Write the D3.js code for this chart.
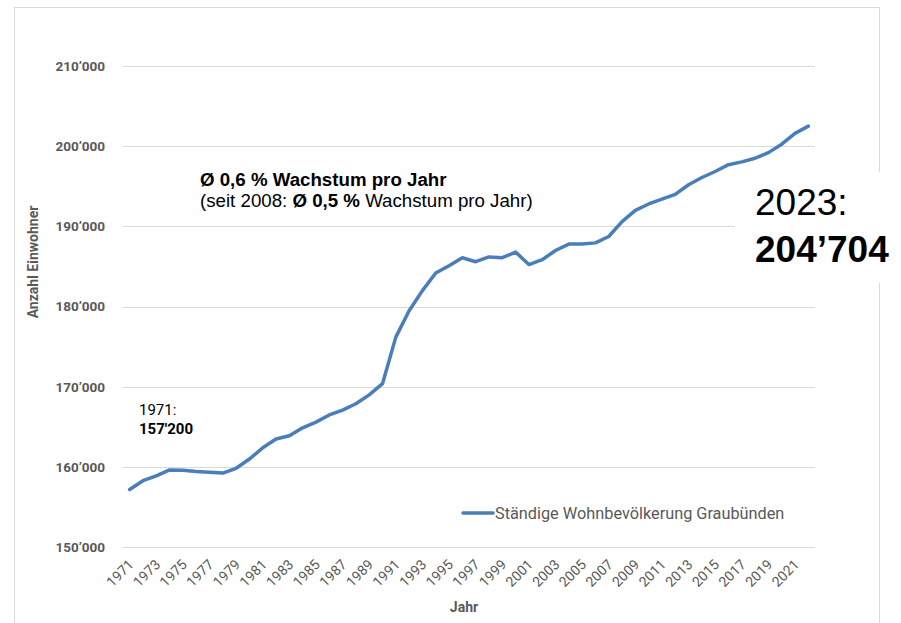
<!DOCTYPE html>
<html>
<head>
<meta charset="utf-8">
<script src="https://cdn.jsdelivr.net/npm/d3@7"></script>
<style>
  body { margin: 0; background: #fff; }
  svg { display: block; }
  .tick text { font-family: Roboto, sans-serif; fill: #595959; }
</style>
</head>
<body>
<div id="chart"></div>
<script>
// Ständige Wohnbevölkerung Graubünden, 1971-2022
let years = d3.range(1971, 2023);
let population = [
    157200, 158300, 158900, 159650, 159600, 159450, 159350, 159250, 159850, 161000,
    162400, 163500, 163900, 164900, 165600, 166500, 167100, 167900, 169000, 170400,
    176200, 179500, 182000, 184200, 185100, 186100, 185600, 186200, 186100, 186800,
    185250, 185850, 187000, 187800, 187800, 187950, 188750, 190600, 192000, 192800,
    193400, 194000, 195200, 196100, 196850, 197700, 198050, 198500, 199200, 200250,
    201600, 202500
];
let yTicks = [150000, 160000, 170000, 180000, 190000, 200000, 210000];
let xTicks = years.filter(y => (y - 1971) % 2 === 0);

let width = 901, height = 623;
let lineColor = "#4a7ebb";

let svg = d3.select("#chart").append("svg")
    .attr("width", width)
    .attr("height", height);

// outer chart frame
svg.append("rect")
    .attr("x", 14.5).attr("y", 7.5)
    .attr("width", 865).attr("height", 640)
    .attr("fill", "#fff")
    .attr("stroke", "#d9d9d9");

let x = d3.scalePoint()
    .domain(years)
    .range([123, 815])
    .padding(0.5);

let y = d3.scaleLinear()
    .domain([150000, 210000])
    .range([547.3, 66]);

let fmt = v => d3.format(",")(v).replace(/,/g, "\u2019");

// gridlines
svg.append("g")
    .selectAll("line")
    .data(yTicks)
    .enter().append("line")
    .attr("x1", 123).attr("x2", 815)
    .attr("y1", d => Math.round(y(d)) + 0.5)
    .attr("y2", d => Math.round(y(d)) + 0.5)
    .attr("stroke", "#d9d9d9")
    .attr("stroke-width", 1);

// y axis
let yAxis = svg.append("g")
    .attr("transform", "translate(123,0)")
    .call(d3.axisLeft(y).tickValues(yTicks).tickFormat(fmt).tickSize(0).tickPadding(18));
yAxis.select(".domain").remove();
yAxis.selectAll("text")
    .attr("font-size", 13.5)
    .attr("font-weight", "bold");

// x axis
let xAxis = svg.append("g")
    .attr("transform", "translate(0,547)")
    .call(d3.axisBottom(x).tickValues(xTicks).tickSize(0));
xAxis.select(".domain").remove();
xAxis.selectAll("text")
    .attr("font-size", 14)
    .attr("text-anchor", "end")
    .attr("x", 0).attr("y", 0).attr("dy", "0.35em")
    .attr("transform", "translate(1,15) rotate(-45)");

// axis titles
svg.append("text")
    .attr("transform", "translate(38,262) rotate(-90)")
    .attr("text-anchor", "middle")
    .attr("font-family", "Roboto, sans-serif")
    .attr("font-size", 14)
    .attr("font-weight", "bold")
    .attr("fill", "#595959")
    .text("Anzahl Einwohner");

svg.append("text")
    .attr("x", 464).attr("y", 612)
    .attr("text-anchor", "middle")
    .attr("font-family", "Roboto, sans-serif")
    .attr("font-size", 14)
    .attr("font-weight", "bold")
    .attr("fill", "#595959")
    .text("Jahr");

// line
let line = d3.line()
    .x((d, i) => x(years[i]))
    .y(d => y(d));

svg.append("path")
    .datum(population)
    .attr("fill", "none")
    .attr("stroke", lineColor)
    .attr("stroke-width", 3.5)
    .attr("stroke-linejoin", "round")
    .attr("stroke-linecap", "round")
    .attr("d", line);

// legend
svg.append("line")
    .attr("x1", 463).attr("x2", 493)
    .attr("y1", 513).attr("y2", 513)
    .attr("stroke", lineColor)
    .attr("stroke-width", 3.5)
    .attr("stroke-linecap", "round");
svg.append("text")
    .attr("x", 495).attr("y", 519)
    .attr("font-family", "Roboto, sans-serif")
    .attr("font-size", 16.3)
    .attr("fill", "#595959")
    .text("Ständige Wohnbevölkerung Graubünden");

// growth annotation
let note = svg.append("g")
    .attr("font-family", "'Liberation Sans', Arial, sans-serif")
    .attr("font-size", 18.7)
    .attr("fill", "#000");
note.append("text")
    .attr("x", 200).attr("y", 186)
    .attr("font-weight", "bold")
    .text("Ø 0,6 % Wachstum pro Jahr");
let n2 = note.append("text").attr("x", 200).attr("y", 207);
n2.append("tspan").text("(seit 2008: ");
n2.append("tspan").attr("font-weight", "bold").text("Ø 0,5 %");
n2.append("tspan").text(" Wachstum pro Jahr)");

// 1971 annotation
let a1 = svg.append("g")
    .attr("font-family", "Roboto, sans-serif")
    .attr("font-size", 15)
    .attr("fill", "#000");
a1.append("text").attr("x", 139).attr("y", 415).text("1971:");
a1.append("text").attr("x", 139).attr("y", 434)
    .attr("font-weight", "bold")
    .text("157'200");

// 2023 box
svg.append("rect")
    .attr("x", 735).attr("y", 172)
    .attr("width", 166).attr("height", 111)
    .attr("fill", "#fff");
let a2 = svg.append("g")
    .attr("font-family", "'Liberation Sans', Arial, sans-serif")
    .attr("font-size", 37)
    .attr("fill", "#000");
a2.append("text").attr("x", 755).attr("y", 215).text("2023:");
a2.append("text").attr("x", 755).attr("y", 262)
    .attr("font-weight", "bold")
    .text("204\u2019704");
</script>
</body>
</html>
